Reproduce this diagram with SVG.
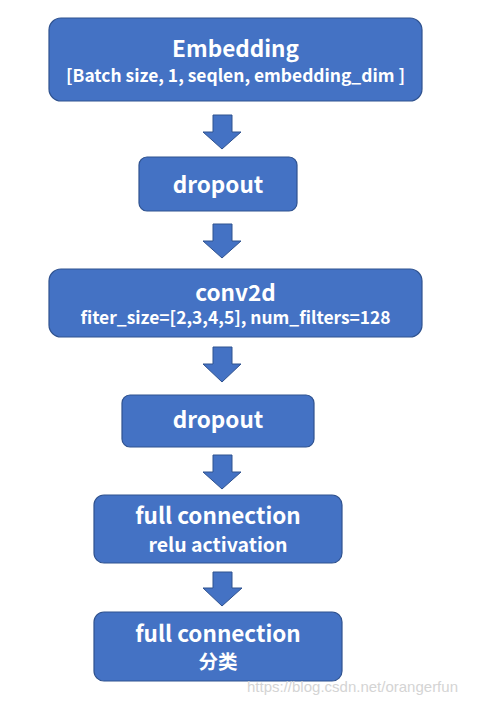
<svg xmlns="http://www.w3.org/2000/svg" width="477" height="704" viewBox="0 0 477 704">
<style>
.box{fill:#4472C4;stroke:#2F528F;stroke-width:1.2}
.arr{fill:#4472C4;stroke:#2F528F;stroke-width:1}
.t{fill:#fff;font-family:"Noto Sans CJK SC","Noto Sans",sans-serif;font-weight:bold;text-anchor:middle}
.h{font-size:22.5px}
.s{font-size:17.4px}
.s2{font-size:19.5px}
.wm{fill:#d4d4d4;font-family:"Liberation Sans",Arial,sans-serif;font-size:15px}
</style>
<rect width="477" height="704" fill="#fff"/>
<g id="connectors">
<path class="arr" d="M213,115 H232 V132 H241 L222,149 L203,132 H213 Z"/>
<path class="arr" d="M213,224 H232 V241 H241 L222,258 L203,241 H213 Z"/>
<path class="arr" d="M213,347 H232 V364 H241 L222,382 L203,364 H213 Z"/>
<path class="arr" d="M213,455 H232 V472 H241 L222,489 L203,472 H213 Z"/>
<path class="arr" d="M213,572 H232 V588 H242 L222,606 L203,588 H213 Z"/>
</g>
<g id="embedding">
<rect class="box" x="49" y="18" width="373" height="83" rx="12"/>
<text class="t h" x="235.5" y="57">Embedding</text>
<text class="t s" x="235.5" y="82">[Batch size, 1, seqlen, embedding_dim ]</text>
</g>
<g id="dropout1">
<rect class="box" x="139" y="157" width="158" height="54" rx="8"/>
<text class="t h" x="218" y="193">dropout</text>
</g>
<g id="conv2d">
<rect class="box" x="49" y="269" width="373" height="68" rx="12"/>
<text class="t h" x="235.5" y="301">conv2d</text>
<text class="t s" x="235.5" y="324">fiter_size=[2,3,4,5], num_filters=128</text>
</g>
<g id="dropout2">
<rect class="box" x="122" y="395" width="192" height="52" rx="8"/>
<text class="t h" x="218" y="428">dropout</text>
</g>
<g id="fc1">
<rect class="box" x="94" y="495" width="248" height="68" rx="10"/>
<text class="t h" x="218" y="524">full connection</text>
<text class="t s2" x="218" y="552">relu activation</text>
</g>
<g id="fc2">
<rect class="box" x="94" y="612" width="248" height="69" rx="10"/>
<text class="t h" x="218" y="642">full connection</text>
<text class="t s2" x="218" y="669">分类</text>
</g>
<text class="wm" x="247" y="692">https://blog.csdn.net/orangerfun</text>
</svg>
